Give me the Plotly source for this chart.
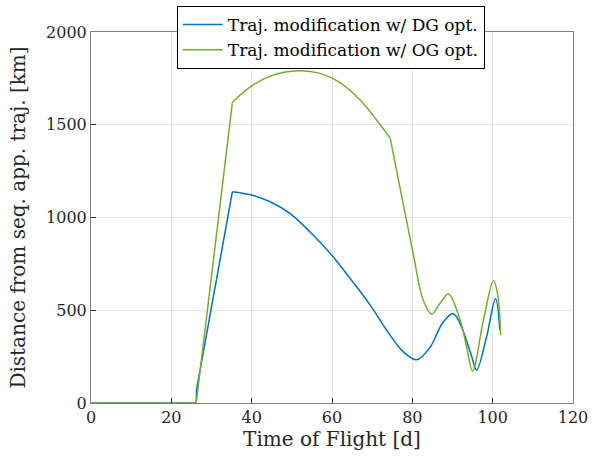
import plotly.graph_objects as go

# Blue: Traj. modification w/ DG opt.
dg_t = [0, 10, 20, 26.2, 26.3, 35.2, 40, 44.6, 49.5, 54.5, 59.9, 64.5, 69.5, 74.4, 77.7,
        81.1, 84.4, 87.5, 90.0, 91.0, 92.7, 94.8, 96.0, 98.5, 100.7, 101.8]
dg_d = [0, 0, 0, 0, 75, 1139, 1121, 1085, 1022, 923, 798, 672, 528, 367, 277,
        233, 300, 430, 483, 465, 385, 250, 178, 357, 564, 394]

# Green: Traj. modification w/ OG opt.
og_t = [0, 10, 20, 26.2, 35.2, 40, 45.4, 51.6, 57.0, 62.0, 67.0, 71.1, 74.5, 77.7,
        80.2, 82.7, 84.8, 87.0, 89.0, 91.9, 93.5, 95.0, 97.7, 100.2, 101.2, 102.0]
og_d = [0, 0, 0, 0, 1621, 1709, 1768, 1791, 1777, 1727, 1633, 1526, 1427, 1076,
        807, 555, 480, 540, 588, 447, 303, 172, 447, 659, 591, 367]

# piecewise drawing: (start, end, shape) index ranges, inclusive
dg_pieces = [(0, 5, "linear"), (5, 25, "spline")]
og_pieces = [(0, 4, "linear"), (4, 12, "spline"), (12, 13, "linear"), (13, 25, "spline")]

x_ticks = [0, 20, 40, 60, 80, 100, 120]
y_ticks = [0, 500, 1000, 1500, 2000]

FONT = "DejaVu Serif"

series = [
    ("Traj. modification w/ DG opt.", "#0072BD", dg_t, dg_d, dg_pieces),
    ("Traj. modification w/ OG opt.", "#77AC30", og_t, og_d, og_pieces),
]

fig = go.Figure()
# first pass: legend-bearing traces in order
for name, color, t, d, pieces in series:
    a, b, shape = pieces[0]
    fig.add_trace(go.Scatter(x=t[a:b + 1], y=d[a:b + 1], mode="lines", name=name,
                             legendgroup=name, showlegend=True,
                             line=dict(color=color, width=1.5, shape=shape, smoothing=1.0)))
for name, color, t, d, pieces in series:
    for a, b, shape in pieces[1:]:
        fig.add_trace(go.Scatter(x=t[a:b + 1], y=d[a:b + 1], mode="lines", name=name,
                                 legendgroup=name, showlegend=False,
                                 line=dict(color=color, width=1.5, shape=shape, smoothing=1.0)))

axis_common = dict(showline=True, linecolor="#808080", linewidth=1, mirror=True,
                   ticks="inside", ticklen=5, tickcolor="#262626",
                   showgrid=True, gridcolor="#e6e6e6", gridwidth=1, zeroline=False,
                   tickfont=dict(family=FONT, size=16, color="#262626"))

fig.update_layout(
    width=592, height=462,
    margin=dict(l=91, r=19, t=32, b=59, autoexpand=False),
    paper_bgcolor="white", plot_bgcolor="white",
    font=dict(family=FONT, size=16, color="#262626"),
    xaxis=dict(range=[0, 120], tickvals=x_ticks,
               title=dict(text="Time of Flight [d]", font=dict(family=FONT, size=20), standoff=4),
               **axis_common),
    yaxis=dict(range=[0, 2000], tickvals=y_ticks,
               title=dict(text="Distance from seq. app. traj. [km]", font=dict(family=FONT, size=20), standoff=15),
               **axis_common),
    legend=dict(x=0.178, y=1.07, xanchor="left", yanchor="top",
                bgcolor="white", bordercolor="black", borderwidth=1,
                font=dict(family=FONT, size=17, color="black"),
                tracegroupgap=0, itemwidth=40),
    showlegend=True,
)

fig.write_html("out.html")
